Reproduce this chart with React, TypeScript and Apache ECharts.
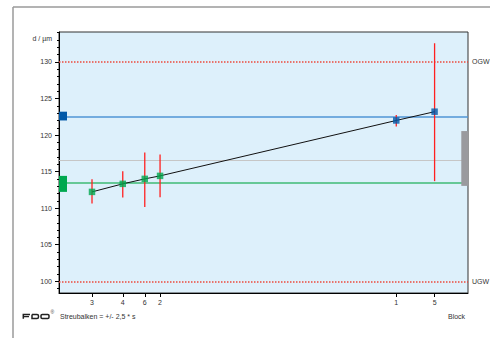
import React, { useEffect, useRef } from "react";
import * as echarts from "echarts";

// ---- data ----
const blocks = ["3", "4", "6", "2", "1", "5"];
const blockPos = [8.07, 15.59, 20.97, 24.71, 82.46, 91.83];
const means = [112.23, 113.33, 114.01, 114.42, 122.0, 123.2];
const errLow = [110.64, 111.47, 110.18, 111.5, 121.19, 113.7];
const errHigh = [113.97, 115.07, 117.63, 117.36, 122.74, 132.56];
const groupOf = ["green", "green", "green", "green", "blue", "blue"];
const OGW = 130;
const UGW = 100;
const blueMean = 122.51;
const greenMean = 113.47;
const grandMean = 116.53;
const grayRange = [113.05, 120.55];
const yMajorTicks = [100, 105, 110, 115, 120, 125, 130];
const yMinorTicks = [99, 100, 101, 102, 103, 104, 105, 106, 107, 108, 109, 110, 111, 112, 113, 114, 115, 116, 117, 118, 119, 120, 121, 122, 123, 124, 125, 126, 127, 128, 129, 130, 131, 132, 133, 134];

const GREEN = "#00a84f";
const BLUE = "#0058a8";
const RED = "#ec4a3e";
const FONT = "'Liberation Sans', Arial, sans-serif";

export default function App() {
  const ref = useRef<HTMLDivElement>(null);
  useEffect(() => {
    if (!ref.current) return;
    const chart = echarts.init(ref.current, null, { renderer: "svg" });
    const pts = blocks.map((_, i) => [blockPos[i], means[i]]);
    const greenPts = pts.filter((_, i) => groupOf[i] === "green");
    const bluePts = pts.filter((_, i) => groupOf[i] === "blue");
    const gVals = means.filter((_, i) => groupOf[i] === "green");
    const bVals = means.filter((_, i) => groupOf[i] === "blue");
    const yMin = 98.4, yMax = 134.1;
    const nearestIdx = (v: number) => {
      let best = 0;
      blockPos.forEach((p, i) => { if (Math.abs(p - v) < Math.abs(blockPos[best] - v)) best = i; });
      return best;
    };
    const limitLabel = (t: string) => ({
      show: true, position: "end", formatter: t, fontSize: 7, color: "#333", fontFamily: FONT, distance: 4,
    });
    const option: any = {
      animation: false,
      grid: {
        left: 59, top: 32, right: 22, bottom: 45,
        show: true, backgroundColor: "#ddf0fb", borderColor: "#333", borderWidth: 1,
      },
      xAxis: {
        type: "value", min: 0, max: 100,
        splitLine: { show: false },
        axisLine: { show: true, lineStyle: { color: "#000", width: 1 } },
        axisTick: { show: true, customValues: blockPos, length: 4, lineStyle: { color: "#000" } },
        axisLabel: {
          customValues: blockPos, margin: 6, fontSize: 7, color: "#333", fontFamily: FONT,
          formatter: (v: number) => blocks[nearestIdx(v)],
        },
      },
      yAxis: [
        {
          type: "value", min: yMin, max: yMax, splitLine: { show: false },
          axisLine: { show: true, lineStyle: { color: "#000", width: 1 } },
          axisTick: { show: true, customValues: yMajorTicks, length: 4, lineStyle: { color: "#000" } },
          axisLabel: { customValues: yMajorTicks, margin: 7, fontSize: 7, color: "#333", fontFamily: FONT },
        },
        {
          type: "value", min: yMin, max: yMax, position: "left", splitLine: { show: false },
          axisLine: { show: false },
          axisTick: { show: true, customValues: yMinorTicks, length: 2, lineStyle: { color: "#000" } },
          axisLabel: { show: false },
        },
      ],
      series: [
        {
          type: "line", data: [], silent: true, z: 1,
          markLine: {
            silent: true, symbol: "none", label: { show: false }, z: 1,
            data: [
              { yAxis: grandMean, lineStyle: { color: "#c6c6c6", width: 1, type: "solid" } },
              { yAxis: greenMean, lineStyle: { color: "#66c896", width: 2, type: "solid" } },
              { yAxis: blueMean, lineStyle: { color: "#4f96d6", width: 1.5, type: "solid" } },
            ],
          },
        },
        {
          type: "line", data: [], silent: true, z: 1,
          color: RED,
          markLine: {
            silent: true, symbol: "none", z: 1,
            lineStyle: { color: RED, width: 1.5, type: "dotted" },
            data: [
              { yAxis: OGW, label: limitLabel("OGW") },
              { yAxis: UGW, label: limitLabel("UGW") },
            ],
          },
        },
        {
          type: "custom", z: 3, silent: true,
          data: blocks.map((_, i) => [blockPos[i], errLow[i], errHigh[i]]),
          encode: { x: 0, y: [1, 2] },
          renderItem: (params: any, api: any) => {
            const x = api.value(0);
            const lo = api.coord([x, api.value(1)]);
            const hi = api.coord([x, api.value(2)]);
            return {
              type: "line",
              shape: { x1: lo[0], y1: lo[1], x2: hi[0], y2: hi[1] },
              style: { stroke: "#ff2020", lineWidth: 1.3 },
            };
          },
        },
        {
          type: "line", data: pts, symbol: "none", z: 4, silent: true,
          lineStyle: { color: "#111", width: 1 },
        },
        {
          type: "scatter", data: greenPts, symbol: "rect", symbolSize: 6.5, z: 5, silent: true,
          itemStyle: { color: GREEN },
        },
        {
          type: "scatter", data: bluePts, symbol: "rect", symbolSize: 6.5, z: 5, silent: true,
          itemStyle: { color: BLUE },
        },
        {
          type: "line", data: [], silent: true, z: 10,
          markArea: {
            silent: true, z: 10,
            data: [
              [{ xAxis: 0, yAxis: Math.min(...gVals), itemStyle: { color: GREEN, opacity: 1 } }, { xAxis: 1.96, yAxis: Math.max(...gVals) }],
              [{ xAxis: 0, yAxis: Math.min(...bVals), itemStyle: { color: BLUE, opacity: 1 } }, { xAxis: 1.96, yAxis: Math.max(...bVals) }],
              [{ xAxis: 98.36, yAxis: grayRange[0], itemStyle: { color: "#9a9a9e", opacity: 1 } }, { xAxis: 100, yAxis: grayRange[1] }],
            ],
          },
        },
      ],
      graphic: [
        { type: "line", shape: { x1: 13, y1: 7, x2: 13, y2: 338 }, style: { stroke: "#9a9a9a", lineWidth: 1.5 } },
        { type: "line", shape: { x1: 13, y1: 7, x2: 490, y2: 7 }, style: { stroke: "#9a9a9a", lineWidth: 1.5 } },
        { type: "text", x: 52, y: 38, style: { text: "d / µm", fontSize: 7, fill: "#333", fontFamily: FONT, align: "right", verticalAlign: "middle" } },
        { type: "text", x: 448, y: 316, style: { text: "Block", fontSize: 7, fill: "#333", fontFamily: FONT, align: "left", verticalAlign: "middle" } },
        { type: "text", x: 60, y: 316, style: { text: "Streubalken = +/- 2,5 * s", fontSize: 7, fill: "#333", fontFamily: FONT, align: "left", verticalAlign: "middle" } },
        { type: "polyline", shape: { points: [[30, 314.5], [23.3, 314.5], [23.3, 318.8]] }, style: { stroke: "#222", lineWidth: 1.5, fill: null } },
        { type: "line", shape: { x1: 23.3, y1: 316.6, x2: 29, y2: 316.6 }, style: { stroke: "#222", lineWidth: 1.3 } },
        { type: "rect", shape: { x: 32, y: 314.5, width: 6.5, height: 4, r: [0, 1.5, 1.5, 0] }, style: { stroke: "#222", lineWidth: 1.5, fill: null } },
        { type: "rect", shape: { x: 41, y: 314.5, width: 8, height: 4, r: 1.2 }, style: { stroke: "#222", lineWidth: 1.5, fill: null } },
        { type: "text", x: 50.5, y: 312, style: { text: "®", fontSize: 5, fill: "#444", fontFamily: FONT, align: "left", verticalAlign: "middle" } },
      ],
    };
    chart.setOption(option);
    return () => chart.dispose();
  }, []);
  return <div ref={ref} style={{ width: 490, height: 338, position: "absolute", left: 0, top: 0 }} />;
}
